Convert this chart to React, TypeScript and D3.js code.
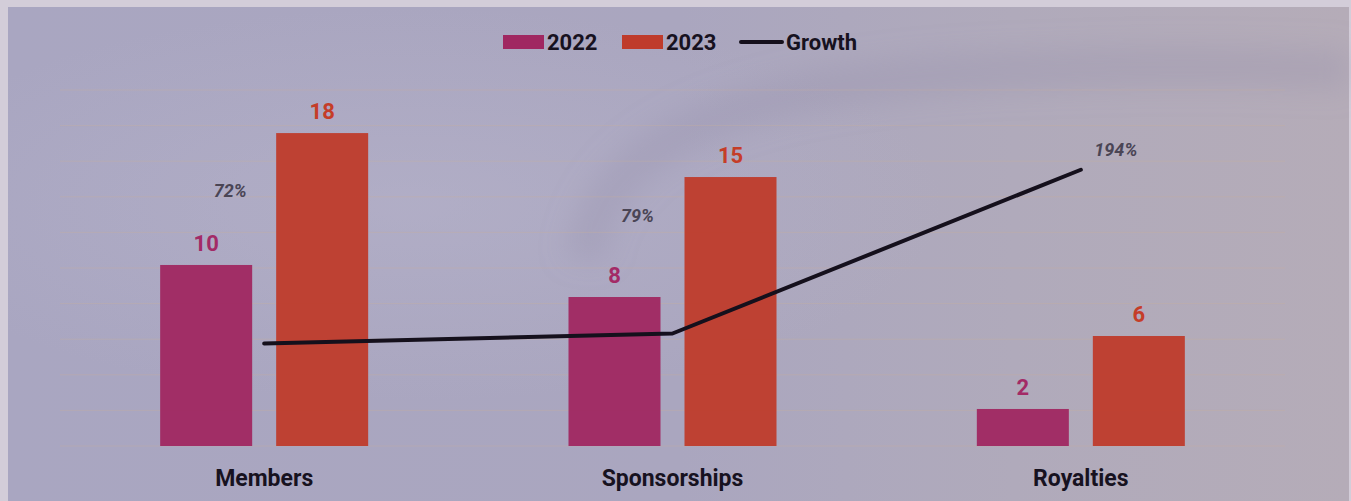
import React from "react";
import * as d3 from "d3";

const categories = ["Members", "Sponsorships", "Royalties"];
const seriesNames = ["2022", "2023"];
const values2022 = [10.17, 8.37, 2.08];
const values2023 = [17.58, 15.11, 6.18];
const growth = [0.72, 0.79, 1.94];
const leftTicks = [0, 2, 4, 6, 8, 10, 12, 14, 16, 18, 20];
// label offsets for the growth labels (style, not data)
const growthLabelOffsets: [number, number][] = [
  [-34, -146],
  [-35, -112],
  [35, -14],
];

const W = 1351;
const H = 501;
const COLORS = ["#a02761", "#bf3b2b"];
const FONT = "Roboto, 'Open Sans', sans-serif";

export default function App() {
  const plot = { left: 60, right: 1285, top: 90, bottom: 446 };
  const x = d3.scaleBand<string>().domain(categories).range([plot.left, plot.right]).padding(0);
  const y = d3.scaleLinear().domain([0, 20]).range([plot.bottom, plot.top]);
  const y2 = d3.scaleLinear().domain([0, 2.5]).range([plot.bottom, plot.top]);
  const barW = 92;
  const offs = [-58, 58];
  const series = [values2022, values2023];
  const fmtPct = d3.format(".0%");
  const fmtVal = d3.format(".0f");

  const linePts: [number, number][] = categories.map((c, i) => [x(c)! + x.bandwidth() / 2, y2(growth[i])]);
  const line = d3.line();

  return (
    <svg width={W} height={H} style={{ position: "absolute", left: 0, top: 0, display: "block" }}>
      <defs>
        <linearGradient id="bg" x1="0" y1="0" x2="1" y2="0">
          <stop offset="0" stopColor="#a9a6c1" />
          <stop offset="0.5" stopColor="#aaa6bf" />
          <stop offset="0.75" stopColor="#b0aabb" />
          <stop offset="1" stopColor="#b5acb8" />
        </linearGradient>
        <radialGradient id="glow" cx="0.3" cy="0.4" r="0.4">
          <stop offset="0" stopColor="#b8b5cc" stopOpacity="0.5" />
          <stop offset="1" stopColor="#b8b5cc" stopOpacity="0" />
        </radialGradient>
        <filter id="blur" x="-20%" y="-50%" width="140%" height="200%">
          <feGaussianBlur stdDeviation="14" />
        </filter>
      </defs>
      <rect x={0} y={0} width={W} height={H} fill="#d3cdd9" />
      <rect x={8} y={7} width={1341} height={H - 7} fill="url(#bg)" />
      <rect x={8} y={7} width={1341} height={H - 7} fill="url(#glow)" />
      <path
        d="M585,260 C600,140 740,85 980,72 C1130,64 1260,66 1349,70"
        fill="none"
        stroke="#9490a8"
        strokeOpacity={0.3}
        strokeWidth={40}
        filter="url(#blur)"
      />
      {/* gridlines */}
      {leftTicks.map((t) => (
        <line
          key={t}
          x1={plot.left}
          x2={plot.right}
          y1={y(t)}
          y2={y(t)}
          stroke="#c9ae9c"
          strokeOpacity={0.35}
          strokeWidth={1}
        />
      ))}
      {/* bars */}
      {series.map((vals, si) =>
        categories.map((c, ci) => {
          const cx = x(c)! + x.bandwidth() / 2 + offs[si];
          return (
            <g key={`${si}-${ci}`}>
              <rect x={cx - barW / 2} y={y(vals[ci])} width={barW} height={y(0) - y(vals[ci])} fill={COLORS[si]} fillOpacity={0.95} />
              <text
                x={cx}
                y={y(vals[ci]) - 14}
                textAnchor="middle"
                fontFamily={FONT}
                fontWeight={700}
                fontSize={22}
                fill={si === 0 ? "#a32a66" : "#c53d28"}
              >
                {fmtVal(vals[ci])}
              </text>
            </g>
          );
        })
      )}
      {/* growth line */}
      <path d={line(linePts) || ""} fill="none" stroke="#15101c" strokeWidth={4} strokeLinecap="round" strokeLinejoin="round" />
      {linePts.map((p, i) => (
        <text
          key={i}
          x={p[0] + growthLabelOffsets[i][0]}
          y={p[1] + growthLabelOffsets[i][1]}
          textAnchor="middle"
          fontFamily={FONT}
          fontStyle="italic"
          fontWeight={700}
          fontSize={18}
          fill="#4a4555"
        >
          {fmtPct(growth[i])}
        </text>
      ))}
      {/* category labels */}
      {categories.map((c) => (
        <text
          key={c}
          x={x(c)! + x.bandwidth() / 2}
          y={486}
          textAnchor="middle"
          fontFamily={FONT}
          fontWeight={700}
          fontSize={23}
          fill="#17121f"
        >
          {c}
        </text>
      ))}
      {/* legend */}
      <g fontFamily={FONT} fontWeight={700} fontSize={22} fill="#17121f">
        <rect x={503} y={35} width={41} height={14} fill={COLORS[0]} />
        <text x={547} y={50}>{seriesNames[0]}</text>
        <rect x={622} y={35} width={41} height={14} fill={COLORS[1]} />
        <text x={666} y={50}>{seriesNames[1]}</text>
        <line x1={741} x2={782} y1={42} y2={42} stroke="#15101c" strokeWidth={4} strokeLinecap="round" />
        <text x={786} y={50}>Growth</text>
      </g>
    </svg>
  );
}
